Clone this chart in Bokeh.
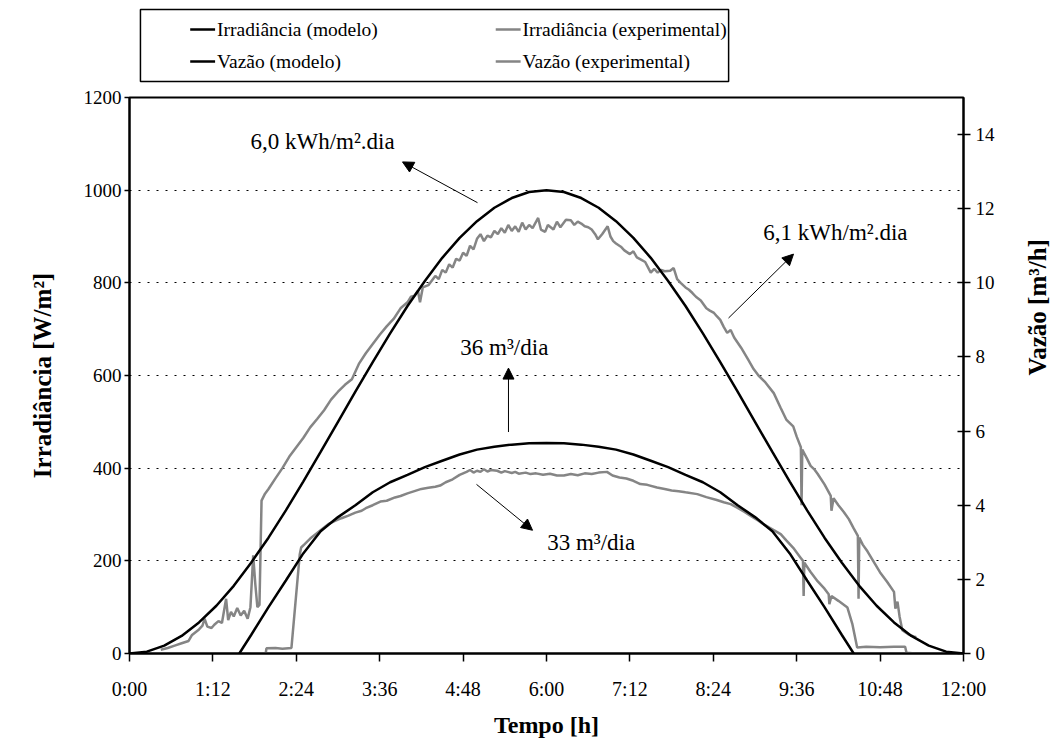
import math
from bokeh.plotting import figure
from bokeh.layouts import column
from bokeh.models import (Range1d, LinearAxis, FixedTicker, CustomJSTickFormatter,
                          Arrow, NormalHead, Label)
from bokeh.core.properties import value
from bokeh.embed import file_html
from bokeh.resources import INLINE

# ---------------- data ----------------
irr_model_h = [0, 0.25, 0.5, 0.75, 1.0, 1.25, 1.5, 1.75, 2.0, 2.25, 2.5, 2.75, 3.0, 3.25, 3.5, 3.75,
               4.0, 4.25, 4.5, 4.75, 5.0, 5.25, 5.5, 5.75, 6.0, 6.25, 6.5, 6.75, 7.0, 7.25, 7.5, 7.75,
               8.0, 8.25, 8.5, 8.75, 9.0, 9.25, 9.5, 9.75, 10.0, 10.25, 10.5, 10.75, 11.0, 11.25,
               11.5, 11.75, 12.0]
irr_model_w = [0, 4, 17, 38, 67, 103, 146, 196, 250, 309, 371, 435, 500, 565, 629, 691,
               750, 804, 854, 897, 933, 962, 983, 996, 1000, 996, 983, 962, 933, 897, 854, 804,
               750, 691, 629, 565, 500, 435, 371, 309, 250, 196, 146, 103, 67, 38,
               17, 4, 0]

irr_exp_h = [0.45, 0.55, 0.65, 0.75, 0.85, 0.9, 0.95, 1.0, 1.05, 1.08, 1.12, 1.18, 1.22, 1.28, 1.33,
             1.39, 1.42, 1.46, 1.5, 1.55, 1.6, 1.65, 1.7, 1.74, 1.78, 1.81, 1.84, 1.87, 1.9, 1.95,
             2.0, 2.1, 2.2, 2.3, 2.4, 2.5, 2.6, 2.7, 2.8, 2.9, 3.0, 3.1, 3.2, 3.3, 3.4, 3.5, 3.6,
             3.7, 3.8, 3.9, 4.0, 4.05, 4.1, 4.15, 4.18, 4.22, 4.3, 4.4, 4.45, 4.5, 4.55, 4.6, 4.65,
             4.7, 4.75, 4.8, 4.85, 4.9, 4.95, 5.0, 5.05, 5.1, 5.15, 5.2, 5.25, 5.3, 5.35, 5.4, 5.45,
             5.5, 5.55, 5.6, 5.65, 5.7, 5.75, 5.8, 5.88, 5.92, 5.98, 6.02, 6.1, 6.15, 6.2, 6.28,
             6.35, 6.4, 6.45, 6.5, 6.55, 6.6, 6.65, 6.7, 6.74, 6.8, 6.88, 6.92, 6.96, 7.0, 7.07,
             7.12, 7.2, 7.25, 7.3, 7.36, 7.42, 7.5, 7.55, 7.6, 7.65, 7.7, 7.78, 7.83, 7.88, 7.93,
             8.0, 8.05, 8.1, 8.15, 8.22, 8.3, 8.35, 8.41, 8.45, 8.5, 8.55, 8.6, 8.65, 8.7, 8.8, 8.9,
             8.98, 9.05, 9.15, 9.27, 9.37, 9.45, 9.55, 9.6, 9.66, 9.67, 9.68, 9.75, 9.8, 9.85, 9.9,
             10.0, 10.09, 10.1, 10.13, 10.2, 10.28, 10.35, 10.42, 10.48, 10.49, 10.5, 10.55, 10.62,
             10.7, 10.8, 10.9, 11.0, 11.02, 11.05, 11.08, 11.12, 11.2, 11.28, 11.32]
irr_exp_w = [8, 12, 17, 22, 27, 40, 46, 52, 60, 75, 58, 55, 62, 70, 66,
             118, 72, 90, 80, 98, 82, 92, 75, 100, 212, 150, 100, 105, 330, 345,
             355, 378, 400, 425, 445, 465, 488, 506, 525, 548, 565, 580, 592, 625, 648, 668, 688,
             706, 722, 745, 758, 770, 772, 783, 758, 790, 795, 815, 808, 828, 822, 840, 833,
             852, 848, 865, 858, 880, 872, 895, 905, 890, 902, 898, 912, 905, 918, 908, 925,
             912, 922, 910, 930, 915, 925, 918, 940, 915, 910, 925, 915, 932, 920, 936,
             935, 925, 932, 928, 922, 920, 915, 905, 894, 905, 922, 900, 890, 885, 878,
             870, 862, 868, 855, 850, 845, 822, 830, 822, 828, 825, 826, 832, 808, 800,
             790, 785, 778, 770, 762, 745, 740, 735, 728, 720, 705, 692, 698, 682, 660, 635,
             614, 600, 585, 562, 530, 505, 490, 468, 445, 320, 440, 420, 405, 398, 388,
             365, 340, 308, 335, 320, 305, 290, 270, 254, 118, 250, 235, 220,
             200, 175, 155, 133, 97, 112, 80, 50, 42, 37, 35]

q_model_h = [1.58, 1.75, 2.0, 2.25, 2.5, 2.75, 3.0, 3.25, 3.5, 3.75, 4.0, 4.25, 4.5, 4.75, 5.0,
             5.25, 5.5, 5.75, 6.0, 6.25, 6.5, 6.75, 7.0, 7.25, 7.5, 7.75, 8.0, 8.25, 8.5, 8.75,
             9.0, 9.25, 9.5, 9.75, 10.0, 10.25, 10.42]
q_model = [0, 0.5, 1.25, 1.97, 2.7, 3.3, 3.68, 4.0, 4.35, 4.62, 4.82, 5.03, 5.2, 5.37, 5.5,
           5.58, 5.635, 5.67, 5.68, 5.67, 5.635, 5.58, 5.5, 5.37, 5.2, 5.03, 4.82, 4.62, 4.35, 4.0,
           3.68, 3.3, 2.7, 1.97, 1.25, 0.5, 0]

q_exp_h = [1.75, 1.96, 1.97, 2.1, 2.2, 2.33, 2.45, 2.47, 2.52, 2.6, 2.7, 2.8, 2.86, 2.95, 3.05,
           3.15, 3.25, 3.34, 3.4, 3.5, 3.61, 3.7, 3.82, 3.9, 4.0, 4.1, 4.2, 4.3, 4.4, 4.47, 4.55,
           4.65, 4.75, 4.85, 4.9, 4.95, 5.0, 5.05, 5.1, 5.15, 5.2, 5.29, 5.35, 5.4, 5.5, 5.55, 5.6,
           5.7, 5.77, 5.85, 5.95, 6.05, 6.15, 6.25, 6.35, 6.45, 6.55, 6.65, 6.75, 6.87, 6.95, 7.05,
           7.15, 7.25, 7.35, 7.45, 7.59, 7.7, 7.8, 7.9, 8.0, 8.17, 8.3, 8.45, 8.55, 8.65, 8.75,
           8.85, 8.95, 9.05, 9.12, 9.25, 9.37, 9.45, 9.55, 9.65, 9.69, 9.7, 9.71, 9.8, 9.9, 10.0,
           10.06, 10.07, 10.1, 10.2, 10.33, 10.4, 10.47, 10.6, 10.8, 11.0, 11.16, 11.18, 11.3]
q_exp = [0.0, 0.0, 0.14, 0.15, 0.13, 0.15, 2.68, 2.86, 2.95, 3.1, 3.25, 3.4, 3.49, 3.57, 3.65,
         3.72, 3.8, 3.85, 3.92, 4.0, 4.1, 4.12, 4.21, 4.25, 4.32, 4.38, 4.44, 4.47, 4.5, 4.53, 4.62,
         4.7, 4.82, 4.9, 4.95, 4.88, 4.93, 4.9, 4.97, 4.91, 4.95, 4.93, 4.88, 4.92, 4.87, 4.9, 4.85,
         4.88, 4.84, 4.86, 4.82, 4.85, 4.8, 4.8, 4.84, 4.81, 4.86, 4.84, 4.88, 4.9, 4.8, 4.75,
         4.72, 4.66, 4.57, 4.55, 4.48, 4.44, 4.4, 4.38, 4.35, 4.3, 4.22, 4.14, 4.08, 4.03, 3.93,
         3.82, 3.7, 3.58, 3.49, 3.35, 3.22, 3.05, 2.85, 2.6, 2.5, 1.55, 2.45, 2.2, 1.95, 1.75,
         1.6, 1.33, 1.55, 1.42, 1.24, 0.8, 0.16, 0.18, 0.17, 0.18, 0.18, 0.02, 0.0]

x_ticks = [0, 1.2, 2.4, 3.6, 4.8, 6.0, 7.2, 8.4, 9.6, 10.8, 12.0]
irr_ticks = [0, 200, 400, 600, 800, 1000, 1200]
q_ticks = [0, 2, 4, 6, 8, 10, 12, 14]

legend_labels = ["Irradiância (modelo)", "Irradiância (experimental)",
                 "Vazão (modelo)", "Vazão (experimental)"]

FONT = "Liberation Serif"
BLACK = "#000000"
GREY = "#858585"
W = 1063
LEG_H = 86
FRAME_L, FRAME_R = 129, 963

# ---------------- legend strip (own small figure above the chart) ----------------
# its frame is aligned with the chart frame by the column layout, so x range = page pixels
lf = figure(width=W, height=LEG_H, x_range=Range1d(FRAME_L, FRAME_R), y_range=Range1d(LEG_H, 0),
            min_border=0, output_backend="svg", toolbar_location=None)
lf.axis.visible = False
lf.grid.visible = False
lf.outline_line_color = None
lf.background_fill_color = "white"
lf.border_fill_color = "white"
lf.quad(left=[140], right=[731], top=[9], bottom=[81], fill_color="white",
        line_color=BLACK, line_width=1.5)
leg_x0 = [190, 190, 497, 497]
leg_y = [29, 61, 29, 61]
leg_text = [legend_labels[0], legend_labels[2], legend_labels[1], legend_labels[3]]
leg_col = [BLACK, BLACK, GREY, GREY]
lf.segment(x0=leg_x0, y0=leg_y, x1=[x + 25 for x in leg_x0], y1=leg_y,
           line_color=leg_col, line_width=2.5)
lf.text(x=[x + 27 for x in leg_x0], y=leg_y, text=leg_text, text_font=value(FONT),
        text_font_size=value("19.5px"), text_baseline="middle", text_align="left",
        text_color=BLACK)

# ---------------- main chart ----------------
p = figure(width=W, height=745 - LEG_H, frame_width=FRAME_R - FRAME_L, frame_height=556,
           min_border_left=FRAME_L, min_border_right=W - FRAME_R, min_border_top=11,
           min_border_bottom=92,
           x_range=Range1d(0, 12), y_range=Range1d(0, 1200),
           output_backend="svg", toolbar_location=None)
p.extra_y_ranges = {"q": Range1d(0, 15)}
p.background_fill_color = "white"
p.border_fill_color = "white"
p.outline_line_color = BLACK
p.outline_line_width = 2
p.outline_line_alpha = 1.0

r_irr_exp = p.line(irr_exp_h, irr_exp_w, line_color=GREY, line_width=2.5)
r_q_exp = p.line(q_exp_h, q_exp, line_color=GREY, line_width=2.5, y_range_name="q")
r_irr_mod = p.line(irr_model_h, irr_model_w, line_color=BLACK, line_width=2.5)
r_q_mod = p.line(q_model_h, q_model, line_color=BLACK, line_width=2.5, y_range_name="q")


def style_axis(ax, size):
    ax.major_label_text_font = FONT
    ax.major_label_text_font_size = size
    ax.major_label_text_color = BLACK
    ax.axis_label_text_font = FONT
    ax.axis_label_text_font_style = "bold"
    ax.axis_label_text_font_size = "25px"
    ax.axis_label_text_color = BLACK
    ax.axis_line_color = BLACK
    ax.axis_line_width = 2
    ax.major_tick_line_color = BLACK
    ax.major_tick_line_width = 1.5
    ax.minor_tick_line_color = None
    ax.minor_tick_in = 0
    ax.minor_tick_out = 0


yl = p.yaxis[0]
yl.ticker = FixedTicker(ticks=irr_ticks)
yl.axis_label = "Irradiância [W/m²]"
style_axis(yl, "19px")
yl.major_tick_out = 5
yl.major_tick_in = 0
yl.major_label_standoff = 3
yl.axis_label_standoff = 25

xa = p.xaxis[0]
xa.ticker = FixedTicker(ticks=x_ticks)
xa.formatter = CustomJSTickFormatter(code="""
const m = Math.round(tick * 60);
const h = Math.floor(m / 60);
const mm = m % 60;
return h + ":" + (mm < 10 ? "0" : "") + mm;
""")
xa.axis_label = "Tempo [h]"
style_axis(xa, "20px")
xa.axis_label_text_font_size = "24px"
xa.major_tick_out = 8
xa.major_tick_in = 0
xa.major_label_standoff = 16
xa.axis_label_standoff = 9

yr = LinearAxis(y_range_name="q", ticker=FixedTicker(ticks=q_ticks))
yr.axis_label = "Vazão [m³/h]"
style_axis(yr, "19px")
yr.major_tick_out = 7
yr.major_tick_in = 6
yr.major_label_standoff = 5
yr.axis_label_standoff = 40
try:
    yr.axis_label_orientation = math.pi / 2
except Exception:
    pass
p.add_layout(yr, "right")

p.xgrid.grid_line_color = None
p.ygrid.grid_line_color = BLACK
p.ygrid.grid_line_width = 1
p.ygrid.grid_line_dash = "2 7"


def arrow(x0, y0, x1, y1):
    p.add_layout(Arrow(end=NormalHead(size=11, fill_color=BLACK, line_color=BLACK, line_width=1),
                       x_start=x0, y_start=y0, x_end=x1, y_end=y1,
                       line_color=BLACK, line_width=1))


def label(x, y, text):
    p.add_layout(Label(x=x, y=y, text=text, text_font=FONT, text_font_size="23px",
                       text_color=BLACK, text_baseline="alphabetic", text_align="left"))


arrow(5.007, 973, 3.928, 1061)
arrow(8.619, 724, 9.554, 862)
arrow(5.453, 478, 5.453, 616)
arrow(4.993, 365, 5.799, 266)
label(1.74, 1105, "6,0 kWh/m².dia")
label(9.12, 908, "6,1 kWh/m².dia")
label(4.76, 661, "36 m³/dia")
label(6.01, 240, "33 m³/dia")

layout = column(lf, p, spacing=0)
open("out.html", "w").write(file_html(layout, INLINE))
